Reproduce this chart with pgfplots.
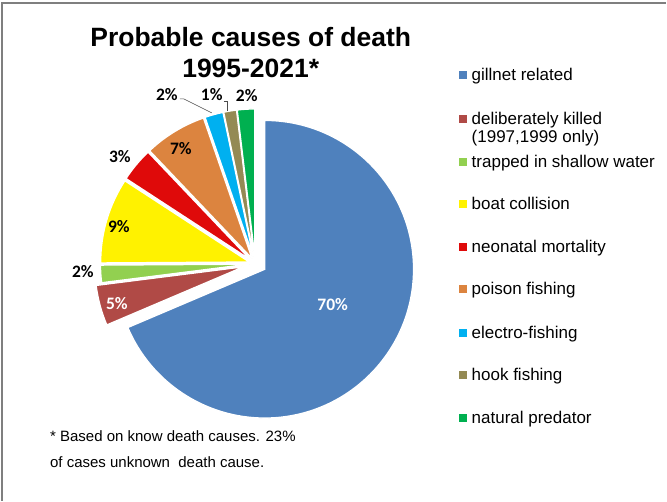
\documentclass[border=0pt]{standalone}
\usepackage{pgfplots}
\usepackage{pgfplotstable}
\pgfplotsset{compat=1.18}
\usepackage{fontspec}
\setmainfont{Liberation Sans}
\newfontfamily\lblfont{Carlito}
\definecolor{cGill}{HTML}{4F81BD}
\definecolor{cDel}{HTML}{B04A46}
\definecolor{cTrap}{HTML}{92D050}
\definecolor{cBoat}{HTML}{FFF200}
\definecolor{cNeo}{HTML}{DF0A0A}
\definecolor{cPois}{HTML}{DC843F}
\definecolor{cElec}{HTML}{00B0F0}
\definecolor{cHook}{HTML}{948A54}
\definecolor{cNat}{HTML}{00B050}
\definecolor{frame}{HTML}{7F7F7F}

% value = share in percent (clockwise from 12 o'clock)
% ex = explode along bisector; dx,dy = extra offset of the slice centre
\pgfplotstableread{
value col   ex  dx    dy
68.6  cGill 0   9.5   -5.5
4.4   cDel  0   -11.5 -3
1.9   cTrap 6   0     0
9.3   cBoat 6   0     0
3.7   cNeo  6   0     0
6.8   cPois 6   0     0
2.0   cElec 6   0     0
1.4   cHook 6   0     0
1.9   cNat  6   0     0
}\piedata
\pgfplotstablecreatecol[expr accum={\pgfmathaccuma + \thisrow{value}}{0}]{cum}{\piedata}

\begin{document}
\begin{tikzpicture}
\begin{axis}[x=1pt,y=1pt,xmin=0,xmax=667,ymin=0,ymax=501,
  hide axis,clip=false]
\path (axis cs:0,0) rectangle (axis cs:667,501);
% frame (cut at right and bottom)
\draw[frame,line width=1.3pt] (axis cs:2,0) -- (axis cs:2,498) -- (axis cs:667,498);
\pgfplotsextra{
  \pgfplotstablegetrowsof{\piedata}
  \pgfmathtruncatemacro\N{\pgfplotsretval-1}
  \foreach \i in {0,...,\N}{
    \pgfplotstablegetelem{\i}{value}\of\piedata \let\v\pgfplotsretval
    \pgfplotstablegetelem{\i}{cum}\of\piedata \let\c\pgfplotsretval
    \pgfplotstablegetelem{\i}{col}\of\piedata \let\col\pgfplotsretval
    \pgfplotstablegetelem{\i}{ex}\of\piedata \let\ex\pgfplotsretval
    \pgfplotstablegetelem{\i}{dx}\of\piedata \let\ddx\pgfplotsretval
    \pgfplotstablegetelem{\i}{dy}\of\piedata \let\ddy\pgfplotsretval
    \pgfmathsetmacro\aS{90-3.6*(\c-\v)}
    \pgfmathsetmacro\aE{90-3.6*\c}
    \pgfmathsetmacro\aM{(\aS+\aE)/2}
    \pgfmathsetmacro\cx{255.5+\ddx+\ex*cos(\aM)}
    \pgfmathsetmacro\cy{237+\ddy+\ex*sin(\aM)}
    \fill[fill=\col,draw=white,line width=1.4pt,line join=miter]
      (axis cs:\cx,\cy) -- ++(\aS:149pt) arc[start angle=\aS,end angle=\aE,radius=149pt] -- cycle;
  }
}
% data labels
\begin{scope}[every node/.style={font=\lblfont\bfseries\fontsize{17.5}{19}\selectfont,inner sep=0pt}]
\node[white] at (axis cs:333,196) {70\%};
\node[white] at (axis cs:117,197) {5\%};
\node at (axis cs:83,229) {2\%};
\node at (axis cs:119,274) {9\%};
\node at (axis cs:120,344) {3\%};
\node at (axis cs:181,352) {7\%};
\node at (axis cs:167,406) {2\%};
\node at (axis cs:212,406) {1\%};
\node at (axis cs:247,405) {2\%};
\end{scope}
\draw[black!70,line width=0.6pt] (axis cs:180,402) -- (axis cs:184,402) -- (axis cs:212,388);
\draw[black!70,line width=0.6pt] (axis cs:224,400) -- (axis cs:228,400) -- (axis cs:228,390);
% title
\node[align=center,font=\bfseries\fontsize{26.5}{31}\selectfont] at (axis cs:251,448) {Probable causes of death\\1995-2021*};
% legend
\begin{scope}[every node/.style={font=\fontsize{17}{18}\selectfont,inner sep=0pt,anchor=base west}]
\node at (axis cs:472,420) {gillnet related};
\node at (axis cs:472,376) {deliberately killed};
\node at (axis cs:472,358) {(1997,1999 only)};
\node at (axis cs:472,333) {trapped in shallow water};
\node at (axis cs:472,291) {boat collision};
\node at (axis cs:472,248) {neonatal mortality};
\node at (axis cs:472,206) {poison fishing};
\node at (axis cs:472,162) {electro-fishing};
\node at (axis cs:472,120) {hook fishing};
\node at (axis cs:472,77) {natural predator};
\end{scope}
\begin{scope}[every node/.style={minimum size=8pt,inner sep=0pt,draw=none}]
\node[fill=cGill] at (axis cs:463,426) {};
\node[fill=cDel]  at (axis cs:463,382) {};
\node[fill=cTrap] at (axis cs:463,339) {};
\node[fill=cBoat] at (axis cs:463,297) {};
\node[fill=cNeo]  at (axis cs:463,254) {};
\node[fill=cPois] at (axis cs:463,212) {};
\node[fill=cElec] at (axis cs:463,168) {};
\node[fill=cHook] at (axis cs:463,126) {};
\node[fill=cNat]  at (axis cs:463,83) {};
\end{scope}
% footnote
\begin{scope}[every node/.style={font=\fontsize{15}{17}\selectfont,inner sep=0pt,anchor=base west}]
\node at (axis cs:50,59) {* Based on know death causes. 23\%};
\node at (axis cs:50,33) {of cases unknown\ \ death cause.};
\end{scope}
\end{axis}
\end{tikzpicture}
\end{document}
